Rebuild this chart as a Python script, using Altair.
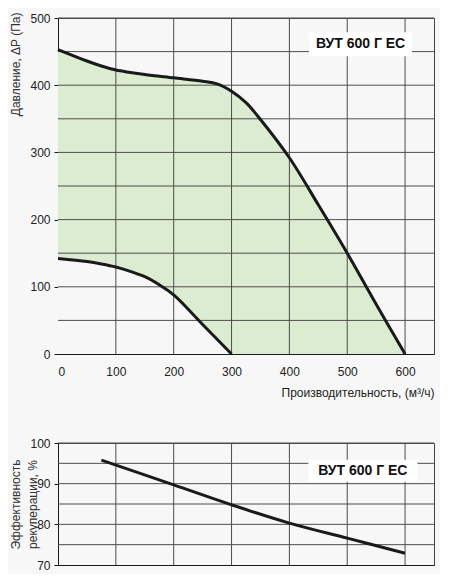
import altair as alt
import pandas as pd

# ---- data ----
flow_max = [0, 50, 75, 100, 125, 150, 200, 250, 275, 300, 325, 350, 400, 450, 500, 550, 600]
p_max = [453, 436, 428.5, 422.5, 419, 416, 411, 406, 402, 391, 374, 349, 292, 222, 150, 74, 0]
flow_min = [0, 50, 75, 100, 125, 150, 175, 200, 250, 300]
p_min = [142, 137.5, 134, 129.5, 123, 115, 103, 88, 44, 0]
eff_flow = [75, 200, 300, 400, 500, 600]
eff = [95.8, 89.7, 84.8, 80.3, 76.6, 72.9]

x_ticks = [0, 100, 200, 300, 400, 500, 600]
x_grid = [100, 200, 300, 400, 500, 600]
p_ticks = [0, 100, 200, 300, 400, 500]
p_grid = [50, 100, 150, 200, 250, 300, 350, 400, 450, 500]
e_ticks = [70, 80, 90, 100]
e_grid = [75, 80, 85, 90, 95, 100]

label_text = ["ВУТ 600 Г ЕС"]
label_top_pos = [523, 461]
label_bot_pos = [527, 93.2]

# ---- style ----
BG = "#f7f7f7"
GREEN = "#dcecd0"
INK = "#1a1a1a"
GRID = "#4d4d4d"
FONT = "Liberation Sans"
CURVE = "catmull-rom"

xs = alt.Scale(domain=[0, 650], nice=False, zero=False)
ys_top = alt.Scale(domain=[0, 500], nice=False)
ys_bot = alt.Scale(domain=[70, 100], nice=False, zero=False)

x_axis_top = alt.Axis(values=x_ticks, grid=False, ticks=False, tickSize=0,
                      domainColor=INK, domainWidth=1,
                      labelFont=FONT, labelFontSize=12, labelColor="#222",
                      labelPadding=12,
                      title="Производительность, (м³/ч)", titleAnchor="end",
                      titleFont=FONT, titleFontSize=12, titleFontWeight="normal",
                      titleColor="#222", titlePadding=10)
y_axis_top = alt.Axis(values=p_ticks, grid=False, ticks=True, tickSize=4,
                      tickColor=INK, domainColor=INK, domainWidth=1,
                      labelFont=FONT, labelFontSize=12, labelColor="#222",
                      labelPadding=4,
                      title="Давление, ΔP (Па)", titleAnchor="end",
                      titleAlign="right", titleX=-36, titleY=-6,
                      titleFont=FONT, titleFontSize=12, titleFontWeight="normal",
                      titleColor="#333")
x_axis_bot = alt.Axis(values=x_ticks, grid=False, ticks=False, labels=False,
                      domainColor=INK, domainWidth=1, title=None)
y_axis_bot = alt.Axis(values=e_ticks, grid=False, ticks=True, tickSize=4,
                      tickColor=INK, domainColor=INK, domainWidth=1,
                      labelFont=FONT, labelFontSize=12, labelColor="#222",
                      labelPadding=4,
                      title=["Эффективность", "рекуперации, %"],
                      titleX=-36, titleLineHeight=17,
                      titleFont=FONT, titleFontSize=12, titleFontWeight="normal",
                      titleColor="#333")

# ---- tables ----
df_max = pd.DataFrame({"flow": flow_max, "p": p_max})
df_min = pd.DataFrame({"flow": flow_min, "p": p_min})
df_eff = pd.DataFrame({"flow": eff_flow, "e": eff})
df_xg = pd.DataFrame({"flow": x_grid})
df_pg = pd.DataFrame({"p": p_grid})
df_eg = pd.DataFrame({"e": e_grid})
df_lt = pd.DataFrame({"flow": [label_top_pos[0]], "p": [label_top_pos[1]], "t": label_text})
df_lb = pd.DataFrame({"flow": [label_bot_pos[0]], "e": [label_bot_pos[1]], "t": label_text})


def X(axis):
    return alt.X("flow:Q", scale=xs, axis=axis)


# ---- top chart ----
YT = lambda: alt.Y("p:Q", scale=ys_top, axis=y_axis_top)

area_max = alt.Chart(df_max).mark_area(color=GREEN, interpolate=CURVE).encode(
    x=X(x_axis_top), y=YT())
area_min = alt.Chart(df_min).mark_area(color=BG, interpolate=CURVE).encode(
    x=X(x_axis_top), y=YT())
vgrid_t = alt.Chart(df_xg).mark_rule(color=GRID, strokeWidth=1).encode(x=X(x_axis_top))
hgrid_t = alt.Chart(df_pg).mark_rule(color=GRID, strokeWidth=1).encode(y=YT())
line_max = alt.Chart(df_max).mark_line(color=INK, strokeWidth=3, interpolate=CURVE).encode(
    x=X(x_axis_top), y=YT())
line_min = alt.Chart(df_min).mark_line(color=INK, strokeWidth=3, interpolate=CURVE).encode(
    x=X(x_axis_top), y=YT())
box_t = alt.Chart(df_lt).mark_point(shape="M-1,-0.233H1V0.233H-1Z", size=10609,
                                    filled=True, fill="white", opacity=1,
                                    strokeWidth=0).encode(x=X(x_axis_top), y=YT())
text_t = alt.Chart(df_lt).mark_text(font=FONT, fontSize=14, fontWeight="bold",
                                    color="#111").encode(
    x=X(x_axis_top), y=YT(), text="t:N")

top = alt.layer(area_max, area_min, vgrid_t, hgrid_t, line_max, line_min,
                box_t, text_t).properties(width=376, height=336)

# ---- bottom chart ----
YB = lambda: alt.Y("e:Q", scale=ys_bot, axis=y_axis_bot)

vgrid_b = alt.Chart(df_xg).mark_rule(color=GRID, strokeWidth=1).encode(x=X(x_axis_bot))
hgrid_b = alt.Chart(df_eg).mark_rule(color=GRID, strokeWidth=1).encode(y=YB())
line_eff = alt.Chart(df_eff).mark_line(color=INK, strokeWidth=3, interpolate=CURVE).encode(
    x=X(x_axis_bot), y=YB())
box_b = alt.Chart(df_lb).mark_point(shape="M-1,-0.202H1V0.202H-1Z", size=11881,
                                    filled=True, fill="white", opacity=1,
                                    strokeWidth=0).encode(x=X(x_axis_bot), y=YB())
text_b = alt.Chart(df_lb).mark_text(font=FONT, fontSize=14, fontWeight="bold",
                                    color="#111").encode(
    x=X(x_axis_bot), y=YB(), text="t:N")

bottom = alt.layer(vgrid_b, hgrid_b, line_eff, box_b, text_b).properties(width=376, height=122)

chart = alt.vconcat(top, bottom, spacing=37).properties(
    padding={"left": 0, "top": 3, "right": 5, "bottom": 2}
).configure(background=BG).configure_view(stroke="#444", strokeWidth=1)

chart.save("out.html", embed_options={"renderer": "svg", "actions": False})
